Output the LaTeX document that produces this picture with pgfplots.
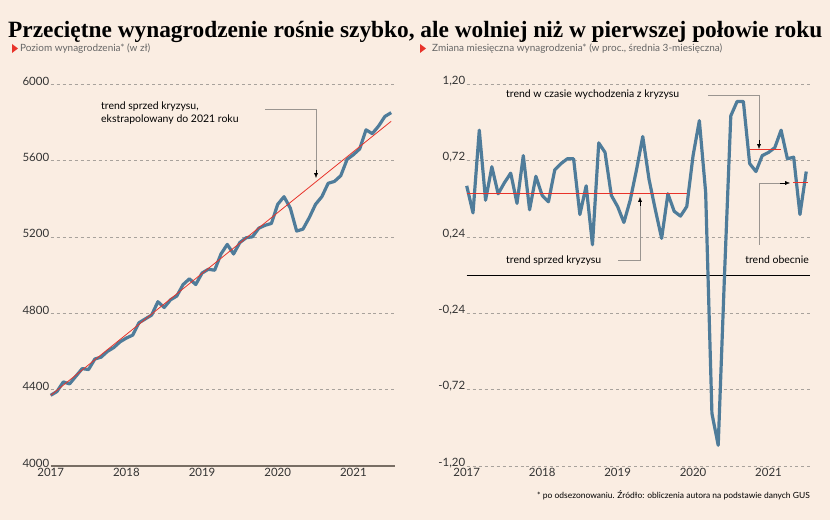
\documentclass[border=0pt]{standalone}
\usepackage{pgfplots}
\pgfplotsset{compat=1.18}
\usepackage{fontspec}
\setmainfont{Lato}
\newfontfamily\titlefont{Liberation Serif}
\usetikzlibrary{arrows.meta}
\definecolor{bg}{HTML}{FAEDE2}
\definecolor{ser}{HTML}{4F7C9A}
\definecolor{trend}{HTML}{E8332A}
\definecolor{txt}{HTML}{333333}
\definecolor{sub}{HTML}{666666}
\definecolor{gridc}{HTML}{A8A29C}
\definecolor{ann}{HTML}{9A9590}
\begin{document}
\begin{tikzpicture}
\begin{scope}[x=1bp,y=1bp]
\fill[bg] (0,0) rectangle (830,520);
\node[anchor=west,inner sep=0] at (8,488) {\resizebox{814bp}{!}{\titlefont\bfseries Przeciętne wynagrodzenie rośnie szybko, ale wolniej niż w pierwszej połowie roku}};
\fill[trend] (12,476) -- (18,471.5) -- (12,467) -- cycle;
\node[anchor=west,inner sep=0,text=sub,font=\fontsize{10}{12}\selectfont] at (20,471) {Poziom wynagrodzenia* (w zł)};
\fill[trend] (420,476) -- (426,471.5) -- (420,467) -- cycle;
\node[anchor=west,inner sep=0,text=sub,font=\fontsize{10}{12}\selectfont] at (432,471) {Zmiana miesięczna wynagrodzenia* (w proc., średnia 3-miesięczna)};
\end{scope}
\pgfplotsset{base/.style={
  anchor=south west, scale only axis, height=382bp,
  axis line style={draw=none}, tick style={draw=none},
  xmin=0, xmax=4.55,
  xtick={0,1,2,3,4},
  xticklabels={2017,2018,2019,2020,2021},
  ymajorgrids, grid style={dashed, gridc, line width=0.5pt},
  tick label style={text=txt, font=\fontsize{11.5}{13}\selectfont},
  yticklabel style={anchor=east, yshift=3bp, xshift=2bp},
  xticklabel style={yshift=1bp},
  clip=false}}
% left
\begin{axis}[base, at={(50.7bp,54bp)}, width=344.3bp, ymin=4000, ymax=6000,
  ytick={4000,4400,4800,5200,5600,6000},
  yticklabels={4000,4400,4800,5200,5600,6000}]
\draw[color={rgb,255:red,120;green,110;blue,100}, line width=1.5pt] (axis cs:0,4000) -- (axis cs:4.55,4000);
\addplot[ser, line width=3.2pt, line join=round] table[x expr=\coordindex/12, y index=0] {
4370
4390
4440
4430
4470
4510
4505
4560
4570
4600
4620
4650
4670
4685
4750
4770
4790
4860
4830
4870
4890
4950
4980
4950
5010
5030
5025
5110
5160
5110
5170
5195
5200
5245
5260
5270
5370
5410
5350
5230
5240
5300
5370
5410
5480
5490
5520
5605
5630
5660
5760
5740
5780
5830
5850
};
\addplot[trend, line width=0.8pt] coordinates {(0,4370) (4.5,5805)};
\end{axis}
% right
\begin{axis}[base, at={(466.7bp,54bp)}, width=343.3bp, ymin=-1.2, ymax=1.2,
  ytick={-1.2,-0.72,-0.24,0.24,0.72,1.2},
  yticklabels={{-1,20},{-0,72},{-0,24},{0,24},{0,72},{1,20}}]
\draw[black, line width=0.8pt] (axis cs:0,0) -- (axis cs:4.55,0);
\addplot[ser, line width=3.2pt, line join=round] table[x expr=\coordindex/12, y index=0] {
0.56
0.39
0.91
0.47
0.68
0.51
0.58
0.64
0.45
0.75
0.41
0.62
0.50
0.46
0.66
0.70
0.73
0.73
0.38
0.56
0.19
0.83
0.77
0.50
0.43
0.33
0.47
0.66
0.87
0.60
0.41
0.23
0.51
0.40
0.37
0.43
0.75
0.97
0.52
-0.87
-1.07
0.00
1.00
1.09
1.09
0.70
0.65
0.75
0.77
0.80
0.91
0.73
0.74
0.38
0.65
};
\addplot[trend, line width=0.8pt] coordinates {(0,0.51) (2.92,0.51)};
\addplot[trend, line width=0.8pt] coordinates {(3.75,0.79) (4.17,0.79)};
\addplot[trend, line width=0.8pt] coordinates {(4.33,0.58) (4.52,0.58)};
\end{axis}
% annotations
\begin{scope}[x=1bp,y=1bp,font=\fontsize{10.5}{13}\selectfont, text=black]
\node[anchor=west, align=left, inner sep=0] at (101,407) {trend sprzed kryzysu,\\ekstrapolowany do 2021 roku};
\draw[ann, line width=0.8pt] (265,411) -- (316,411) -- (316,345);
\draw[-{Latex[length=5pt,width=4pt]}, black] (316,350) -- (316,342);
\node[anchor=west, inner sep=0] at (506,425) {trend w czasie wychodzenia z kryzysu};
\draw[ann, line width=0.8pt] (708,425) -- (759,425) -- (759,376);
\draw[-{Latex[length=5pt,width=4pt]}, black] (759,380) -- (759,371);
\node[anchor=west, inner sep=0] at (506,259) {trend sprzed kryzysu};
\draw[ann, line width=0.8pt] (618,260) -- (640,260) -- (640,318);
\draw[-{Latex[length=5pt,width=4pt]}, black] (640,314) -- (640,323);
\node[anchor=east, inner sep=0] at (809,260) {trend obecnie};
\draw[ann, line width=0.8pt] (759,275) -- (759,337) -- (784,337);
\draw[-{Latex[length=5pt,width=4pt]}, black] (780,337) -- (790,337);
\node[anchor=east, inner sep=0, font=\fontsize{8.5}{10}\selectfont, text=black] at (810,25) {* po odsezonowaniu. Źródło: obliczenia autora na podstawie danych GUS};
\end{scope}
\end{tikzpicture}
\end{document}
